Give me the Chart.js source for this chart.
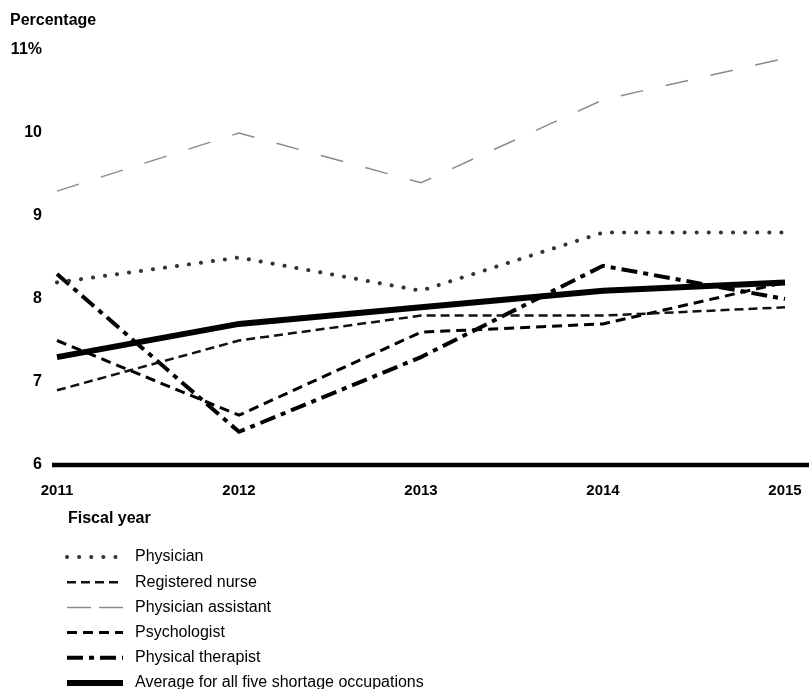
<!DOCTYPE html>
<html>
<head>
<meta charset="utf-8">
<script src="https://cdn.jsdelivr.net/npm/chart.js@4"></script>
<style>
  html, body { margin: 0; padding: 0; background: #fff; }
  #chart { display: block; }
</style>
</head>
<body>
<canvas id="chart" width="809" height="689"></canvas>
<script>
const years = ["2011", "2012", "2013", "2014", "2015"];
const physician = [8.2, 8.5, 8.1, 8.8, 8.8];
const registeredNurse = [6.9, 7.5, 7.8, 7.8, 7.9];
const physicianAssistant = [9.3, 10.0, 9.4, 10.4, 10.9];
const psychologist = [7.5, 6.6, 7.6, 7.7, 8.2];
const physicalTherapist = [8.3, 6.4, 7.3, 8.4, 8.0];
const average = [7.3, 7.7, 7.9, 8.1, 8.2];
const yTicks = [6, 7, 8, 9, 10, 11];

const FONT = "'Liberation Sans', Arial, sans-serif";

function series(label, data, color, width, dash, cap) {
  return {
    label,
    data,
    borderColor: color,
    borderWidth: width,
    borderDash: dash,
    borderCapStyle: cap || "butt",
    borderJoinStyle: "miter",
    pointRadius: 0,
    tension: 0,
    fill: false,
  };
}

// axis line, title and the legend below the plot
const extras = {
  id: "extras",
  beforeDatasetsDraw(chart) {
    const { ctx, scales: { y } } = chart;
    const yy = y.getPixelForValue(6);
    ctx.save();
    ctx.strokeStyle = "#000";
    ctx.lineWidth = 4.5;
    ctx.beginPath();
    ctx.moveTo(52, yy);
    ctx.lineTo(chart.width, yy);
    ctx.stroke();
    ctx.restore();
  },
  afterDraw(chart) {
    const ctx = chart.ctx;
    ctx.save();
    ctx.fillStyle = "#000";
    ctx.textBaseline = "middle";
    ctx.textAlign = "left";
    ctx.font = "bold 16px " + FONT;
    ctx.fillText("Percentage", 10, 21);
    ctx.fillText("Fiscal year", 68, 519);

    ctx.font = "16px " + FONT;
    chart.data.datasets.forEach((ds, i) => {
      const ly = 557 + i * 25.2;
      ctx.save();
      ctx.strokeStyle = ds.borderColor;
      ctx.lineWidth = ds.borderWidth;
      ctx.lineCap = ds.borderCapStyle;
      ctx.setLineDash(ds.legendDash || ds.borderDash);
      ctx.beginPath();
      ctx.moveTo(67, ly);
      ctx.lineTo(123, ly);
      ctx.stroke();
      ctx.restore();
      ctx.fillText(ds.label, 135, ly);
    });
    ctx.restore();
  },
};

const pa = series("Physician assistant", physicianAssistant, "#8a8a8a", 1.5, [23, 23]);
pa.legendDash = [24, 8];

new Chart(document.getElementById("chart"), {
  type: "line",
  data: {
    labels: years,
    datasets: [
      series("Physician", physician, "#333", 4, [0.1, 12], "round"),
      series("Registered nurse", registeredNurse, "#111", 2.5, [9, 5]),
      pa,
      series("Psychologist", psychologist, "#000", 3, [10, 6]),
      series("Physical therapist", physicalTherapist, "#000", 4, [16, 6, 5, 6]),
      series("Average for all five shortage occupations", average, "#000", 6, []),
    ],
  },
  options: {
    responsive: false,
    animation: false,
    devicePixelRatio: 1,
    layout: {
      padding: { top: 50, right: 24, bottom: 0, left: 0 },
    },
    plugins: {
      legend: { display: false },
      tooltip: { enabled: false },
    },
    scales: {
      x: {
        type: "category",
        offset: false,
        grid: { display: false, drawTicks: false },
        border: { display: false },
        ticks: {
          color: "#000",
          font: { family: FONT, size: 15, weight: "bold" },
          padding: 17,
          maxRotation: 0,
        },
        afterFit(scale) {
          scale.height = 224;
          scale.paddingLeft = 0;
          scale.paddingRight = 0;
        },
      },
      y: {
        min: 6,
        max: 11,
        grid: { display: false, drawTicks: false },
        border: { display: false },
        afterBuildTicks(scale) {
          scale.ticks = yTicks.map((v) => ({ value: v }));
        },
        ticks: {
          color: "#000",
          font: { family: FONT, size: 16, weight: "bold" },
          padding: 15,
          callback: (v) => (v === 11 ? "11%" : String(v)),
        },
        afterFit(scale) {
          scale.width = 57;
        },
      },
    },
  },
  plugins: [extras],
});
</script>
</body>
</html>
